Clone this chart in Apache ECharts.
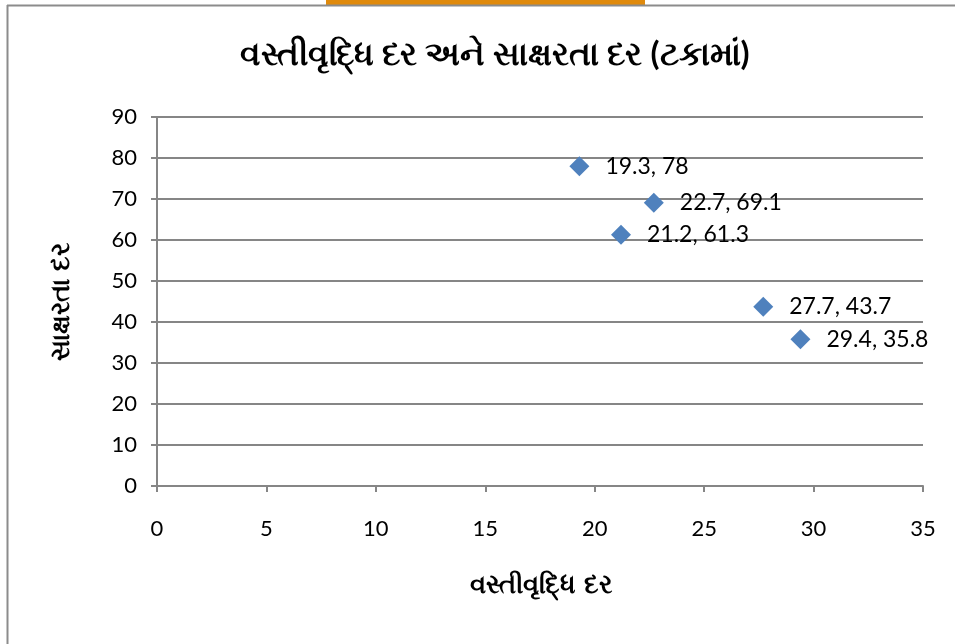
<!DOCTYPE html>
<html>
<head>
<meta charset="utf-8">
<script src="https://cdn.jsdelivr.net/npm/echarts@6/dist/echarts.min.js"></script>
<style>
    html, body { margin: 0; padding: 0; background: #fff; }
    #chart { width: 955px; height: 644px; }
</style>
</head>
<body>
<div id="chart"></div>
<script>
// વસ્તીવૃદ્ધિ દર (x) અને સાક્ષરતા દર (y)
var growthRate = [19.3, 22.7, 21.2, 27.7, 29.4];
var literacyRate = [78, 69.1, 61.3, 43.7, 35.8];

var titleText = 'વસ્તીવૃદ્ધિ દર અને સાક્ષરતા દર (ટકામાં)';
var xName = 'વસ્તીવૃદ્ધિ દર';
var yName = 'સાક્ષરતા દર';

var points = growthRate.map(function (x, i) {
    return [x, literacyRate[i]];
});

var myChart = echarts.init(document.getElementById('chart'));
var axisColor = '#868686';
var option = {
    animation: false,
    textStyle: { fontFamily: 'Lato, "Noto Sans", sans-serif' },
    title: {
        text: titleText,
        left: 490,
        top: 33,
        textAlign: 'center',
        textStyle: { fontSize: 33, fontWeight: 'bold', color: '#000' }
    },
    graphic: [
        { type: 'rect', shape: { x: 326, y: 0, width: 319, height: 5 }, style: { fill: '#e08a0c' } },
        { type: 'line', shape: { x1: 7, y1: 5.5, x2: 955, y2: 5.5 }, style: { stroke: '#8c8c8c', lineWidth: 2 } },
        { type: 'line', shape: { x1: 7.5, y1: 5, x2: 7.5, y2: 644 }, style: { stroke: '#8c8c8c', lineWidth: 2 } },
        {
            type: 'text', x: 541, y: 586,
            style: { text: xName, fontSize: 26, fontWeight: 'bold', fill: '#000', align: 'center', verticalAlign: 'middle' }
        },
        {
            type: 'text', x: 62, y: 302, rotation: Math.PI / 2,
            style: { text: yName, fontSize: 26, fontWeight: 'bold', fill: '#000', align: 'center', verticalAlign: 'middle' }
        }
    ],
    grid: { left: 157, right: 32, top: 117, bottom: 158 },
    xAxis: {
        type: 'value',
        min: 0,
        max: 35,
        interval: 5,
        splitLine: { show: false },
        axisLine: { show: true, onZero: false, lineStyle: { color: axisColor, width: 2 } },
        axisTick: { show: true, length: 6, lineStyle: { color: axisColor, width: 2 } },
        axisLabel: { fontSize: 22, color: '#000', margin: 32 }
    },
    yAxis: {
        type: 'value',
        min: 0,
        max: 90,
        interval: 10,
        splitLine: { show: true, lineStyle: { color: axisColor, width: 2 } },
        axisLine: { show: true, onZero: false, lineStyle: { color: axisColor, width: 2 } },
        axisTick: { show: true, length: 6, lineStyle: { color: axisColor, width: 2 } },
        axisLabel: { fontSize: 22, color: '#000', margin: 20 }
    },
    series: [{
        type: 'scatter',
        symbol: 'diamond',
        symbolSize: 20,
        itemStyle: { color: '#4f81bd', opacity: 1 },
        label: {
            show: true,
            position: 'right',
            distance: 16,
            fontSize: 23,
            color: '#000',
            formatter: function (p) {
                return p.value[0] + ', ' + p.value[1];
            }
        },
        data: points
    }]
};
myChart.setOption(option);
</script>
</body>
</html>
